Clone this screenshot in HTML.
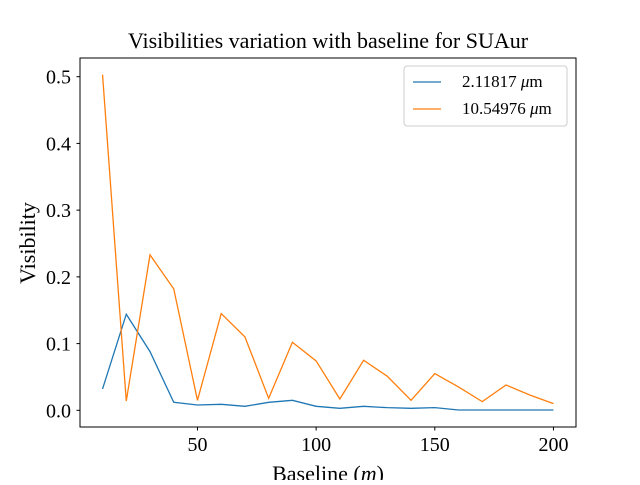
<!DOCTYPE html>
<html><head><meta charset="utf-8"><style>
body{margin:0;background:#fff}
svg text{font-family:"Liberation Serif","DejaVu Serif",serif;fill:#000}
</style></head><body>
<svg width="640" height="480" xmlns="http://www.w3.org/2000/svg">
<rect width="640" height="480" fill="#fff"/>
<text x="328" y="48" font-size="22" text-anchor="middle">Visibilities variation with baseline for SUAur</text>
<g id="plot"></g>
<rect x="80" y="58" width="496" height="369" fill="none" stroke="#000" stroke-width="1"/>
<text x="328" y="481" font-size="22" text-anchor="middle">Baseline (<tspan font-style="italic">m</tspan>)</text>
<text transform="translate(35,243) rotate(-90)" font-size="22" text-anchor="middle">Visibility</text>
<g>
<rect x="404" y="66" width="163" height="60" rx="3" fill="#fff" stroke="#ccc"/>
<line x1="413" y1="82" x2="441" y2="82" stroke="#1f77b4" stroke-width="1.2"/>
<text x="462" y="87" font-size="17">2.11817 <tspan font-style="italic">μ</tspan>m</text>
<line x1="413" y1="109" x2="441" y2="109" stroke="#ff7f0e" stroke-width="1.2"/>
<text x="462" y="114" font-size="17">10.54976 <tspan font-style="italic">μ</tspan>m</text>
</g>
</svg>
<script>
const baselines=[10,20,30,40,50,60,70,80,90,100,110,120,130,140,150,160,170,180,190,200];
const vis2um=[0.032,0.144,0.088,0.012,0.008,0.009,0.006,0.012,0.015,0.006,0.003,0.006,0.004,0.003,0.004,0.0005,0.0005,0.0005,0.0005,0.0005];
const vis10um=[0.503,0.014,0.233,0.182,0.015,0.145,0.110,0.018,0.102,0.074,0.017,0.075,0.051,0.015,0.055,0.035,0.013,0.038,0.023,0.010];
const xTicks=[50,100,150,200];
const yTicks=[0.0,0.1,0.2,0.3,0.4,0.5];
const NS="http://www.w3.org/2000/svg";
const g=document.getElementById('plot');
const xMin=0.5,xMax=209.5,yMin=-0.025,yMax=0.528;
const X=v=>80+(v-xMin)/(xMax-xMin)*496;
const Y=v=>427-(v-yMin)/(yMax-yMin)*369;
function mk(t,a){const e=document.createElementNS(NS,t);for(const k in a)e.setAttribute(k,a[k]);g.appendChild(e);return e;}
xTicks.forEach(t=>{
 const l=mk('line',{x1:X(t),x2:X(t),y1:427,y2:430.5,stroke:'#000'});
 
 
 const tx=mk('text',{x:X(t),y:451,'font-size':20,'text-anchor':'middle'});tx.textContent=t;
 
 
});
yTicks.forEach(t=>{
 const l=mk('line',{x1:76.5,x2:80,y1:Y(t),y2:Y(t),stroke:'#000'});
 
 
 const tx=mk('text',{x:71,y:Y(t)+7,'font-size':20,'text-anchor':'end'});tx.textContent=t.toFixed(1);
 
 
});
function line(vals,color,name){
 const p=mk('polyline',{points:vals.map((v,i)=>X(baselines[i])+','+Y(v)).join(' '),fill:'none',stroke:color,'stroke-width':1.3});
 
 
}
line(vis2um,'#1f77b4','series-2um');
line(vis10um,'#ff7f0e','series-10um');
</script>
</body></html>
